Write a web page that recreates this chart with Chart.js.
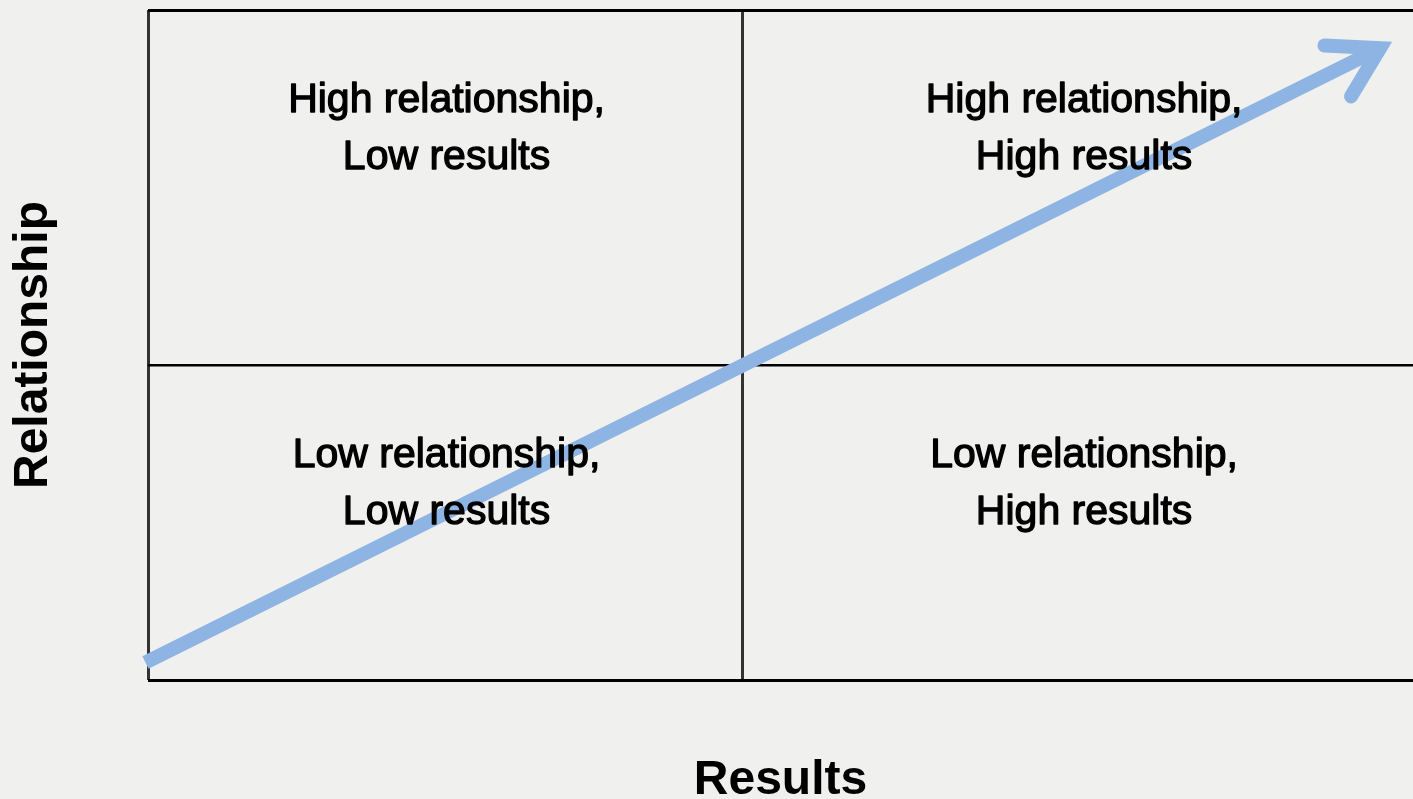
<!DOCTYPE html>
<html>
<head>
<meta charset="utf-8">
<title>Relationship vs Results</title>
<script src="https://cdn.jsdelivr.net/npm/chart.js@4/dist/chart.umd.min.js"></script>
<style>
    html, body { margin: 0; padding: 0; background: #f0f0ef; }
    #wrap { width: 1413px; height: 799px; }
</style>
</head>
<body>
<div id="wrap"><canvas id="quadChart"></canvas></div>
<script>
// axis range and quadrant dividers (data units)
const xRange = [0, 100];
const yRange = [0, 100];
const xDivider = 47;
const yDivider = 47;

// arrow: shaft and head, in data units
const arrowShaft = [{ x: -0.2, y: 2.6 }, { x: 97.4, y: 94.3 }];
const arrowHead = [{ x: 93.0, y: 94.7 }, { x: 97.4, y: 94.3 }, { x: 95.1, y: 87.1 }];

// quadrant captions
const quadrantText = [
    ['High relationship,', 'Low results'],
    ['High relationship,', 'High results'],
    ['Low relationship,', 'Low results'],
    ['Low relationship,', 'High results']
];
const quadrantX = [23.6, 74.0, 23.6, 74.0];
const quadrantY = [82.2, 82.2, 29.3, 29.3];

const xTitle = 'Results';
const yTitle = 'Relationship';

const arrowColor = '#8db4e2';

// draws the four captions on top of the arrow
const quadrantLabels = {
    id: 'quadrantLabels',
    afterDatasetsDraw(chart) {
        const { ctx, scales: { x, y } } = chart;
        ctx.save();
        ctx.font = '41px "Liberation Sans", Arial, sans-serif';
        ctx.fillStyle = '#000';
        ctx.strokeStyle = '#000';
        ctx.lineWidth = 1.3;
        ctx.lineJoin = 'round';
        ctx.textAlign = 'center';
        ctx.textBaseline = 'middle';
        quadrantText.forEach((lines, i) => {
            const cx = x.getPixelForValue(quadrantX[i]);
            const cy = y.getPixelForValue(quadrantY[i]);
            const gap = 57;
            lines.forEach((line, j) => {
                const ly = cy + (j - (lines.length - 1) / 2) * gap;
                ctx.fillText(line, cx, ly);
                ctx.strokeText(line, cx, ly);
            });
        });
        ctx.restore();
    }
};

const ctx = document.getElementById('quadChart').getContext('2d');

new Chart(ctx, {
    type: 'scatter',
    data: {
        datasets: [
            {
                data: arrowShaft,
                showLine: true,
                borderColor: arrowColor,
                borderWidth: 14,
                borderCapStyle: 'butt',
                pointRadius: 0,
                clip: false
            },
            {
                data: arrowHead,
                showLine: true,
                borderColor: arrowColor,
                borderWidth: 14,
                borderCapStyle: 'round',
                borderJoinStyle: 'miter',
                pointRadius: 0,
                clip: false
            }
        ]
    },
    options: {
        responsive: true,
        maintainAspectRatio: false,
        animation: false,
        layout: { padding: { top: 10, right: 0, bottom: 0, left: 0 } },
        plugins: {
            legend: { display: false },
            tooltip: { enabled: false }
        },
        scales: {
            x: {
                type: 'linear',
                min: xRange[0],
                max: xRange[1],
                z: 1,
                afterBuildTicks: scale => {
                    scale.ticks = [xRange[0], xDivider, xRange[1]].map(v => ({ value: v }));
                },
                ticks: { display: false },
                border: { display: false },
                grid: {
                    drawTicks: false,
                    color: c => c.index === 2 ? 'rgba(0,0,0,0)' : '#333',
                    lineWidth: 3
                },
                title: {
                    display: true,
                    text: xTitle,
                    color: '#000',
                    font: { family: '"Liberation Sans", Arial, sans-serif', size: 48, weight: 'bold', lineHeight: 0.9 },
                    padding: { top: 78.8, bottom: -3 }
                }
            },
            y: {
                type: 'linear',
                min: yRange[0],
                max: yRange[1],
                z: 1,
                afterBuildTicks: scale => {
                    scale.ticks = [yRange[0], yDivider, yRange[1]].map(v => ({ value: v }));
                },
                ticks: { display: false },
                border: { display: false },
                grid: {
                    drawTicks: false,
                    color: '#000',
                    lineWidth: c => c.index === 1 ? 2.5 : 3
                },
                title: {
                    display: true,
                    text: yTitle,
                    color: '#000',
                    font: { family: '"Liberation Sans", Arial, sans-serif', size: 48, weight: 'bold', lineHeight: 0.9 },
                    padding: { top: 12.4, bottom: 92.4 }
                }
            }
        }
    },
    plugins: [quadrantLabels]
});
</script>
</body>
</html>
